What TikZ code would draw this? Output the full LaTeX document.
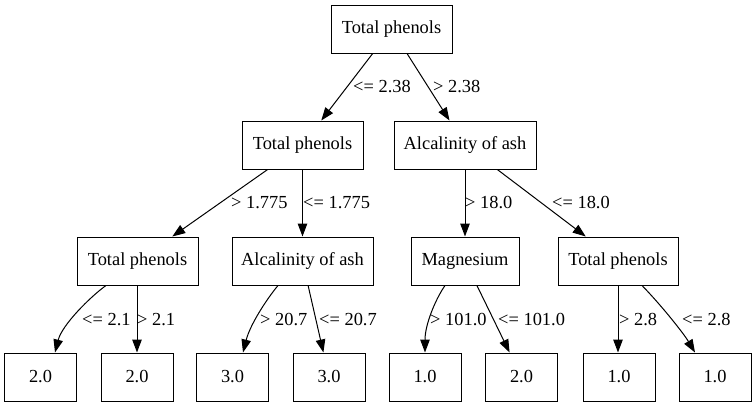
\documentclass[tikz,border=0pt]{standalone}
\usepackage{fontspec}
\setmainfont{Liberation Serif}
\usetikzlibrary{arrows.meta}
\begin{document}
\begin{tikzpicture}[x=1pt,y=-1pt,
  box/.style={draw,line width=1pt,minimum height=48pt,inner sep=0pt,font=\fontsize{18.4}{20}\selectfont},
  leaf/.style={box,minimum width=72pt},
  edge/.style={line width=1pt,-{Triangle[length=13pt,width=9.5pt]}},
  lab/.style={anchor=west,inner sep=0pt,font=\fontsize{18.4}{20}\selectfont}]
\useasboundingbox (0,0) rectangle (756,407);
% internal nodes
\node[box,minimum width=121pt] (root) at (391.5,29) {Total phenols};
\node[box,minimum width=121pt] (tp1) at (302.5,145) {Total phenols};
\node[box,minimum width=142pt] (alc1) at (465,145) {Alcalinity of ash};
\node[box,minimum width=121pt] (tp2) at (137.5,261) {Total phenols};
\node[box,minimum width=141pt] (alc2) at (302.5,261) {Alcalinity of ash};
\node[box,minimum width=108pt] (mg) at (465,261) {Magnesium};
\node[box,minimum width=120pt] (tp3) at (618,261) {Total phenols};
% leaves
\node[leaf] (l1) at (40.5,377) {2.0};
\node[leaf] (l2) at (137,377) {2.0};
\node[leaf] (l3) at (232.5,377) {3.0};
\node[leaf] (l4) at (329,377) {3.0};
\node[leaf] (l5) at (425,377) {1.0};
\node[leaf] (l6) at (521.5,377) {2.0};
\node[leaf] (l7) at (619,377) {1.0};
\node[leaf] (l8) at (715,377) {1.0};
% edges
\draw[edge] (root) -- (tp1);
\draw[edge] (root) -- (alc1);
\draw[edge] (tp1) -- (tp2);
\draw[edge] (tp1.south) -- (alc2.north);
\draw[edge] (alc1.south) -- (mg.north);
\draw[edge] (alc1) -- (tp3);
\draw[edge] ([xshift=-31.5pt]tp2.south) .. controls (90,297) and (62,325) .. ([xshift=14.5pt]l1.north);
\draw[edge] ([xshift=-0.5pt]tp2.south) -- (l2.north);
\draw[edge] ([xshift=-24.5pt]alc2.south) .. controls (266,300) and (250,325) .. ([xshift=10.5pt]l3.north);
\draw[edge] (alc2) -- (l4);
\draw[edge] ([xshift=-20pt]mg.south) .. controls (435,300) and (425,325) .. (l5.north);
\draw[edge] (mg) -- (l6);
\draw[edge] (tp3.south) -- ([xshift=-1pt]l7.north);
\draw[edge] ([xshift=24pt]tp3.south) .. controls (662,306) and (684,334) .. ([xshift=-20pt]l8.north);
% labels
\node[lab] (e1) at (353,87) {<= 2.38};
\node[lab] (e2) at (433,87) {> 2.38};
\node[lab] (e3) at (231,203) {> 1.775};
\node[lab] (e4) at (303,203) {<= 1.775};
\node[lab] (e5) at (465,203) {> 18.0};
\node[lab] (e6) at (552,203) {<= 18.0};
\node[lab] (e7) at (82,320) {<= 2.1};
\node[lab] (e8) at (137,320) {> 2.1};
\node[lab] (e9) at (260,320) {> 20.7};
\node[lab] (e10) at (319,320) {<= 20.7};
\node[lab] (e11) at (430,320) {> 101.0};
\node[lab] (e12) at (498,320) {<= 101.0};
\node[lab] (e13) at (619,320) {> 2.8};
\node[lab] (e14) at (682,320) {<= 2.8};
\end{tikzpicture}
\end{document}
